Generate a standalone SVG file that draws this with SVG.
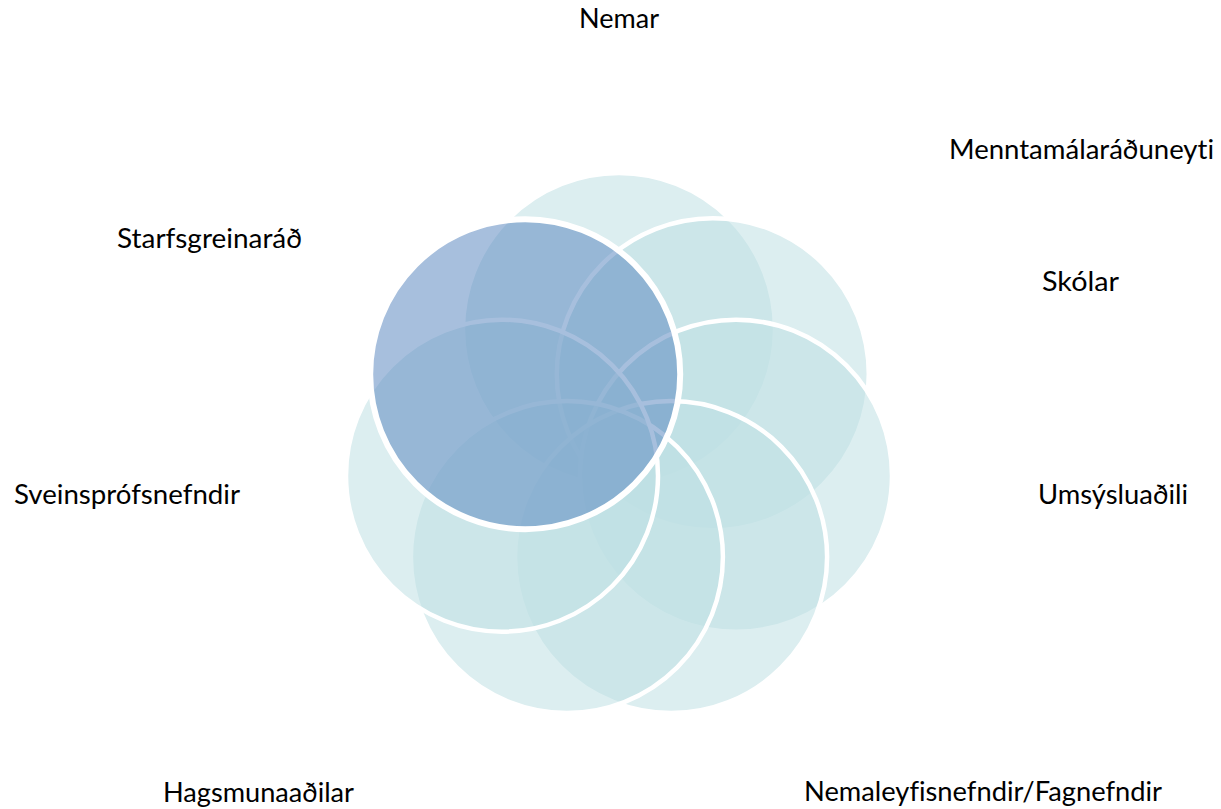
<svg xmlns="http://www.w3.org/2000/svg" width="1221" height="809" viewBox="0 0 1221 809">
<style>
.ring{fill:rgb(190,224,228);fill-opacity:0.54;stroke:#ffffff;stroke-width:4.5}
.hl{fill:rgb(93,137,192);fill-opacity:0.54;stroke:#ffffff;stroke-width:6}
.lbl{font-family:Lato,"Liberation Sans",sans-serif;font-size:27px;fill:#000000;font-variant-ligatures:none;font-feature-settings:"liga" 0}
</style>
<rect x="0" y="0" width="1221" height="809" fill="#ffffff"/>
<g id="circles">
<g id="c1"><circle class="ring" cx="619" cy="329" r="156"/></g>
<g id="c2"><circle class="ring" cx="712.8" cy="374.2" r="156"/></g>
<g id="c3"><circle class="ring" cx="736" cy="475.7" r="156"/></g>
<g id="c4"><circle class="ring" cx="671.1" cy="557.1" r="156"/></g>
<g id="c5"><circle class="ring" cx="566.9" cy="557.1" r="156"/></g>
<g id="c6"><circle class="ring" cx="502" cy="475.7" r="156"/></g>
<g id="c7"><circle class="hl" cx="525.2" cy="374.2" r="155"/></g>
</g>
<g id="connectors"></g>
<g id="labels">
<g id="l-nemar"><text class="lbl" x="579" y="28" textLength="80" lengthAdjust="spacingAndGlyphs">Nemar</text></g>
<g id="l-mrn"><text class="lbl" x="949" y="159" textLength="265" lengthAdjust="spacingAndGlyphs">Menntamálaráðuneyti</text></g>
<g id="l-skolar"><text class="lbl" x="1042" y="291" textLength="77" lengthAdjust="spacingAndGlyphs">Skólar</text></g>
<g id="l-umsysla"><text class="lbl" x="1038" y="504" textLength="150" lengthAdjust="spacingAndGlyphs">Umsýsluaðili</text></g>
<g id="l-nemaleyfi"><text class="lbl" x="804" y="801" textLength="358" lengthAdjust="spacingAndGlyphs">Nemaleyfisnefndir/Fagnefndir</text></g>
<g id="l-hags"><text class="lbl" x="163" y="802" textLength="191" lengthAdjust="spacingAndGlyphs">Hagsmunaaðilar</text></g>
<g id="l-svein"><text class="lbl" x="14" y="504" textLength="226" lengthAdjust="spacingAndGlyphs">Sveinsprófsnefndir</text></g>
<g id="l-starfs"><text class="lbl" x="117" y="248" textLength="185" lengthAdjust="spacingAndGlyphs">Starfsgreinaráð</text></g>
</g>
</svg>
